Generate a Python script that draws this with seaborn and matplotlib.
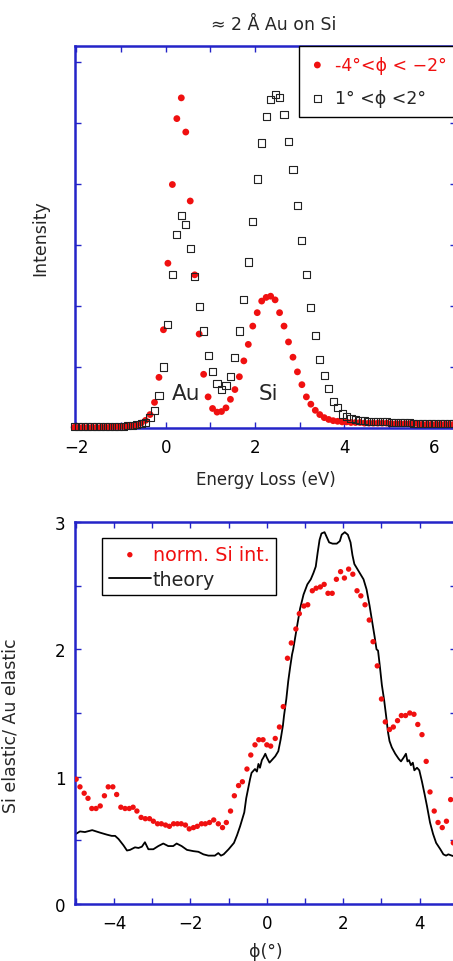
import numpy as np
import pandas as pd
import matplotlib
matplotlib.use("Agg")
import matplotlib.pyplot as plt
import seaborn as sns
from matplotlib.ticker import MultipleLocator

# ---------------- data: top panel (energy-loss spectra) ----------------
energy = [-2.05, -1.95, -1.85, -1.75, -1.65, -1.55, -1.45, -1.35, -1.25, -1.15,
          -1.05, -0.95, -0.85, -0.75, -0.65, -0.55, -0.45, -0.35, -0.25, -0.15,
          -0.05, 0.05, 0.15, 0.25, 0.35, 0.45, 0.55, 0.65, 0.75, 0.85,
          0.95, 1.05, 1.15, 1.25, 1.35, 1.45, 1.55, 1.65, 1.75, 1.85,
          1.95, 2.05, 2.15, 2.25, 2.35, 2.45, 2.55, 2.65, 2.75, 2.85,
          2.95, 3.05, 3.15, 3.25, 3.35, 3.45, 3.55, 3.65, 3.75, 3.85,
          3.95, 4.05, 4.15, 4.25, 4.35, 4.45, 4.55, 4.65, 4.75, 4.85,
          4.95, 5.05, 5.15, 5.25, 5.35, 5.45, 5.55, 5.65, 5.75, 5.85,
          5.95, 6.05, 6.15, 6.25, 6.35, 6.45]

int_neg = [0.01, 0.01, 0.01, 0.01, 0.01, 0.01, 0.01, 0.015, 0.015, 0.02,
           0.02, 0.025, 0.03, 0.04, 0.05, 0.08, 0.125, 0.22, 0.42, 0.83,
           1.61, 2.70, 3.99, 5.07, 5.41, 4.85, 3.72, 2.51, 1.54, 0.88,
           0.51, 0.32, 0.26, 0.27, 0.33, 0.47, 0.63, 0.84, 1.10, 1.37,
           1.67, 1.89, 2.08, 2.14, 2.16, 2.10, 1.89, 1.67, 1.41, 1.16,
           0.92, 0.71, 0.51, 0.39, 0.29, 0.22, 0.17, 0.14, 0.12, 0.11,
           0.10, 0.10, 0.09, 0.09, 0.09, 0.08, 0.08, 0.08, 0.08, 0.08,
           0.08, 0.07, 0.07, 0.07, 0.07, 0.07, 0.07, 0.07, 0.06, 0.06,
           0.06, 0.06, 0.06, 0.06, 0.06, 0.06]

int_pos = [0.02, 0.02, 0.02, 0.02, 0.02, 0.02, 0.02, 0.02, 0.025, 0.025,
           0.03, 0.03, 0.035, 0.04, 0.05, 0.07, 0.09, 0.17, 0.28, 0.53,
           1.00, 1.69, 2.51, 3.17, 3.48, 3.34, 2.94, 2.49, 1.99, 1.59,
           1.19, 0.93, 0.73, 0.63, 0.69, 0.85, 1.15, 1.59, 2.10, 2.72,
           3.39, 4.08, 4.67, 5.10, 5.38, 5.47, 5.41, 5.14, 4.69, 4.23,
           3.64, 3.07, 2.52, 1.97, 1.52, 1.12, 0.86, 0.64, 0.44, 0.33,
           0.23, 0.19, 0.16, 0.14, 0.13, 0.12, 0.11, 0.11, 0.10, 0.10,
           0.10, 0.09, 0.09, 0.09, 0.09, 0.09, 0.08, 0.08, 0.08, 0.08,
           0.08, 0.08, 0.08, 0.08, 0.08, 0.08]

label_neg = "-4°<ϕ < −2°"
label_pos = "1° <ϕ <2°"

# ---------------- data: bottom panel (ratio vs angle) ----------------
phi_meas = [-4.99, -4.89, -4.78, -4.68, -4.58, -4.47, -4.36, -4.25, -4.15, -4.03,
            -3.93, -3.82, -3.71, -3.60, -3.50, -3.40, -3.29, -3.18, -3.07, -2.97,
            -2.86, -2.76, -2.65, -2.55, -2.44, -2.34, -2.24, -2.13, -2.03, -1.92,
            -1.82, -1.71, -1.61, -1.50, -1.39, -1.27, -1.16, -1.06, -0.95, -0.85,
            -0.74, -0.64, -0.52, -0.42, -0.31, -0.21, -0.10, 0.00, 0.10, 0.22,
            0.33, 0.43, 0.54, 0.64, 0.76, 0.85, 0.97, 1.07, 1.19, 1.29,
            1.40, 1.50, 1.60, 1.71, 1.82, 1.93, 2.03, 2.14, 2.25, 2.36,
            2.46, 2.57, 2.68, 2.78, 2.89, 3.00, 3.10, 3.21, 3.31, 3.42,
            3.52, 3.63, 3.74, 3.85, 3.95, 4.06, 4.17, 4.27, 4.38, 4.48,
            4.59, 4.70, 4.81, 4.88]
ratio_meas = [0.98, 0.92, 0.87, 0.83, 0.75, 0.75, 0.77, 0.85, 0.92, 0.92,
              0.86, 0.76, 0.75, 0.75, 0.76, 0.73, 0.68, 0.67, 0.67, 0.65,
              0.63, 0.63, 0.62, 0.61, 0.63, 0.63, 0.63, 0.62, 0.59, 0.60,
              0.61, 0.63, 0.63, 0.64, 0.66, 0.63, 0.60, 0.64, 0.73, 0.85,
              0.93, 0.96, 1.06, 1.17, 1.25, 1.29, 1.29, 1.25, 1.24, 1.30,
              1.39, 1.55, 1.93, 2.05, 2.16, 2.28, 2.34, 2.35, 2.46, 2.48,
              2.49, 2.51, 2.44, 2.44, 2.55, 2.61, 2.56, 2.63, 2.59, 2.46,
              2.42, 2.35, 2.23, 2.06, 1.87, 1.61, 1.43, 1.37, 1.39, 1.44,
              1.48, 1.48, 1.50, 1.49, 1.41, 1.33, 1.12, 0.88, 0.73, 0.64,
              0.60, 0.65, 0.82, 0.48]

phi_theory = [-5.00, -4.89, -4.76, -4.57, -4.36, -4.19, -4.06, -3.97, -3.88, -3.75,
              -3.66, -3.58, -3.45, -3.36, -3.27, -3.19, -3.10, -2.97, -2.84, -2.71,
              -2.58, -2.45, -2.36, -2.23, -2.09, -1.92, -1.79, -1.66, -1.53, -1.36,
              -1.27, -1.20, -1.13, -1.00, -0.86, -0.78, -0.70, -0.59, -0.54, -0.50,
              -0.44, -0.40, -0.31, -0.26, -0.22, -0.18, -0.13, -0.09, -0.04, 0.00,
              0.07, 0.13, 0.22, 0.30, 0.36, 0.42, 0.45, 0.51, 0.56, 0.61,
              0.66, 0.69, 0.79, 0.87, 0.96, 1.06, 1.15, 1.22, 1.28, 1.33,
              1.38, 1.43, 1.51, 1.57, 1.63, 1.72, 1.83, 1.91, 1.96, 2.04,
              2.12, 2.19, 2.24, 2.29, 2.37, 2.45, 2.53, 2.61, 2.69, 2.76,
              2.82, 2.87, 2.91, 2.96, 3.01, 3.07, 3.12, 3.17, 3.21, 3.27,
              3.36, 3.45, 3.51, 3.58, 3.64, 3.68, 3.72, 3.77, 3.82, 3.86,
              3.93, 3.99, 4.06, 4.13, 4.19, 4.27, 4.35, 4.43, 4.54, 4.62,
              4.69, 4.75, 4.84, 4.95]
ratio_theory = [0.55, 0.57, 0.565, 0.58, 0.56, 0.545, 0.535, 0.535, 0.51, 0.46,
                0.42, 0.425, 0.445, 0.44, 0.45, 0.485, 0.43, 0.43, 0.455, 0.475,
                0.455, 0.455, 0.475, 0.455, 0.425, 0.415, 0.41, 0.39, 0.38, 0.38,
                0.40, 0.38, 0.39, 0.43, 0.48, 0.54, 0.61, 0.72, 0.83, 0.89,
                0.98, 1.03, 1.06, 1.04, 1.10, 1.07, 1.13, 1.15, 1.18, 1.15,
                1.11, 1.13, 1.16, 1.20, 1.29, 1.40, 1.48, 1.61, 1.75, 1.86,
                1.96, 2.00, 2.18, 2.32, 2.43, 2.51, 2.55, 2.60, 2.65, 2.76,
                2.86, 2.91, 2.92, 2.88, 2.84, 2.83, 2.83, 2.85, 2.90, 2.92,
                2.90, 2.84, 2.74, 2.67, 2.63, 2.59, 2.55, 2.47, 2.34, 2.21,
                2.10, 2.00, 1.99, 1.86, 1.72, 1.60, 1.48, 1.35, 1.28, 1.23,
                1.18, 1.14, 1.12, 1.15, 1.18, 1.12, 1.13, 1.09, 1.11, 1.05,
                1.07, 1.05, 0.96, 0.86, 0.77, 0.64, 0.55, 0.48, 0.43, 0.39,
                0.38, 0.39, 0.38, 0.37]

# ---------------- style ----------------
sns.set_style("ticks")
plt.rcParams['font.family'] = ['DejaVu Sans']
BLUE = '#2424c8'
RED = '#f01010'

W, H = 453, 962
fig = plt.figure(figsize=(W / 100, H / 100), dpi=100)
ax1 = fig.add_axes([75 / W, (H - 429) / H, 381 / W, 382 / H])
ax2 = fig.add_axes([75 / W, 57 / H, 381 / W, 382 / H])

top_df = pd.DataFrame({'energy': energy, 'neg': int_neg, 'pos': int_pos})
meas_df = pd.DataFrame({'phi': phi_meas, 'ratio': ratio_meas})
theo_df = pd.DataFrame({'phi': phi_theory, 'ratio': ratio_theory})

# top panel
sns.scatterplot(data=top_df, x='energy', y='neg', ax=ax1, color=RED, s=24,
                edgecolor='none', linewidth=0, label=label_neg, clip_on=False, zorder=3)
sns.scatterplot(data=top_df, x='energy', y='pos', ax=ax1, marker='s', color='black',
                facecolors='none', edgecolor='#222222', linewidth=0.8, s=26,
                label=label_pos, clip_on=False, zorder=4)
ax1.set_xlim(-2.03, 6.5)
ax1.set_ylim(0, 6.26)
ax1.set_xticks([-2, 0, 2, 4, 6])
ax1.xaxis.set_minor_locator(MultipleLocator(1))
ax1.set_yticks([0, 1, 2, 3, 4, 5, 6])
ax1.set_yticklabels([])
ax1.set_xlabel('Energy Loss (eV)', fontsize=12)
ax1.set_ylabel('Intensity', fontsize=12.5)
ax1.xaxis.set_label_coords(0.5, -0.11)
ax1.yaxis.set_label_coords(-0.068, 0.5)
ax1.text(0.45, 0.58, 'Au', ha='center', va='center', fontsize=15.5)
ax1.text(2.31, 0.58, 'Si', ha='center', va='center', fontsize=15.5)
leg1 = ax1.legend(loc='upper right', bbox_to_anchor=(1.0, 1.0), borderaxespad=0,
                  fontsize=12.5, frameon=True, fancybox=False, edgecolor='black',
                  framealpha=1, handlelength=1.0, handletextpad=0.5,
                  labelspacing=0.9, borderpad=0.55, markerscale=1.0)
leg1.get_frame().set_linewidth(1.0)
leg1.get_texts()[0].set_color(RED)

# bottom panel
sns.scatterplot(data=meas_df, x='phi', y='ratio', ax=ax2, color=RED, s=15,
                edgecolor='none', linewidth=0, label='norm. Si int.', zorder=3)
sns.lineplot(data=theo_df, x='phi', y='ratio', ax=ax2, color='black', lw=1.3,
             estimator=None, label='theory', zorder=2)
ax2.set_xlim(-5.02, 4.95)
ax2.set_ylim(0, 3)
ax2.set_xticks([-4, -2, 0, 2, 4])
ax2.xaxis.set_minor_locator(MultipleLocator(1))
ax2.set_yticks([0, 1, 2, 3])
ax2.yaxis.set_minor_locator(MultipleLocator(0.5))
ax2.set_xlabel('ϕ(°)', fontsize=12.5)
ax2.set_ylabel('Si elastic/ Au elastic', fontsize=12.5)
ax2.xaxis.set_label_coords(0.5, -0.1)
ax2.yaxis.set_label_coords(-0.145, 0.47)
h, l = ax2.get_legend_handles_labels()
leg2 = ax2.legend(h, l, loc='upper left', bbox_to_anchor=(0.071, 0.958), borderaxespad=0,
                  fontsize=13.8, frameon=True, fancybox=False, edgecolor='black',
                  framealpha=1, handlelength=2.2, handletextpad=0.1,
                  labelspacing=0.3, borderpad=0.35)
leg2.get_frame().set_linewidth(1.0)
leg2.get_texts()[0].set_color(RED)

for ax in (ax1, ax2):
    for sp in ax.spines.values():
        sp.set_color(BLUE)
        sp.set_linewidth(1.8)
        sp.set_visible(True)
        sp.set_zorder(2.5)
    ax.tick_params(which='both', direction='in', top=True, right=True,
                   color=BLUE, width=1.0, labelcolor='black', labelsize=12, pad=7)
    ax.tick_params(which='major', length=4)
    ax.tick_params(which='minor', length=4)

fig.text(274 / W, 1 - 25 / H, '≈ 2 Å Au on Si', ha='center', va='center', fontsize=12.5)

fig.savefig('out.png', dpi=100)
